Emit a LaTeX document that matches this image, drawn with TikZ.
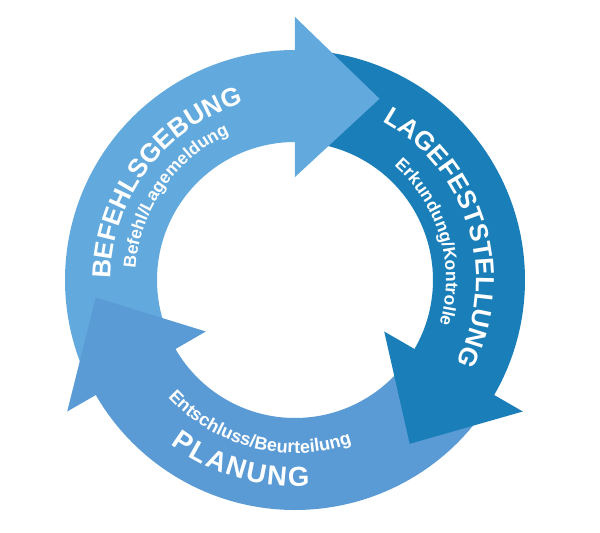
\documentclass[tikz,border=0pt]{standalone}
\usepackage{fontspec}
\setmainfont{Liberation Sans}
\usetikzlibrary{decorations.text}
\definecolor{lightblue}{HTML}{62A9DD}
\definecolor{midblue}{HTML}{5B9BD5}
\definecolor{darkblue}{HTML}{1A7EB9}
\tikzset{
  ringtext/.style={decorate, decoration={text along path, text color=white, text align=center, text={#1}}},
  fittext/.style={decorate, decoration={text along path, text color=white, text align=fit to path, text={#1}}},
}
\newcommand\ringband[2]{%
  \fill[#1] (#2+113:230pt) arc[start angle=#2+113, end angle=#2-2, radius=230pt]
    -- (#2-2:138pt) arc[start angle=#2-2, end angle=#2+113, radius=138pt] -- cycle;}
\newcommand\ringhead[2]{%
  \fill[#1] (#2:263pt) -- (#2-25:200pt) -- (#2:103pt) -- cycle;}
\begin{document}
\begin{tikzpicture}
\fill[white] (-295pt,-253pt) rectangle (305pt,280pt);
\useasboundingbox (-295pt,-253pt) rectangle (305pt,280pt);
% bands
\ringband{lightblue}{90}
\ringband{darkblue}{-30}
\ringband{midblue}{-150}
% heads
\ringhead{lightblue}{90}
\ringhead{darkblue}{-30}
\ringhead{midblue}{-150}
% texts
\path[ringtext={|\bfseries\fontsize{26}{26}\selectfont|BEFEHLSGEBUNG}]
  (213:184pt) arc[start angle=213, end angle=73, radius=184pt];
\path[ringtext={|\bfseries\fontsize{17.5}{17.5}\selectfont|Befehl/Lagemeldung}]
  (215:160pt) arc[start angle=215, end angle=75, radius=160pt];
\path[ringtext={|\bfseries\fontsize{26}{26}\selectfont|LAGEFESTSTELLUNG}]
  (87:181pt) arc[start angle=87, end angle=-53, radius=181pt];
\path[ringtext={|\bfseries\fontsize{17.5}{17.5}\selectfont|Erkundung/Kontrolle}]
  (86:151pt) arc[start angle=86, end angle=-54, radius=151pt];
\path[fittext={|\bfseries\fontsize{27.5}{27.5}\selectfont|PLANUNG}]
  (233:206pt) arc[start angle=233, end angle=274, radius=206pt];
\path[ringtext={|\bfseries\fontsize{18}{18}\selectfont|Entschluss/Beurteilung}]
  (186:173pt) arc[start angle=186, end angle=326, radius=173pt];
\end{tikzpicture}
\end{document}
